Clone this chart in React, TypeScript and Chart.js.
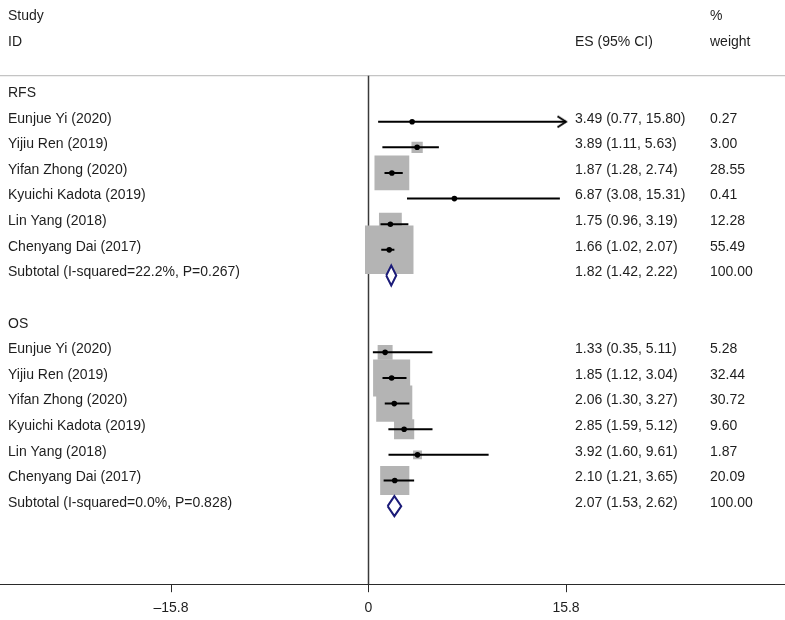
import React, { useEffect, useRef } from 'react';
import { Chart, registerables } from 'chart.js';

Chart.register(...registerables);

// ---------------- data ----------------
const studyNames = [
  'Eunjue Yi (2020)',
  'Yijiu Ren (2019)',
  'Yifan Zhong (2020)',
  'Kyuichi Kadota (2019)',
  'Lin Yang (2018)',
  'Chenyang Dai (2017)',
];

const groupNames = ['RFS', 'OS'];

const rfsES = [3.49, 3.89, 1.87, 6.87, 1.75, 1.66];
const rfsLow = [0.77, 1.11, 1.28, 3.08, 0.96, 1.02];
const rfsHigh = [15.8, 5.63, 2.74, 15.31, 3.19, 2.07];
const rfsWeight = [0.27, 3.0, 28.55, 0.41, 12.28, 55.49];

const osES = [1.33, 1.85, 2.06, 2.85, 3.92, 2.1];
const osLow = [0.35, 1.12, 1.3, 1.59, 1.6, 1.21];
const osHigh = [5.11, 3.04, 3.27, 5.12, 9.61, 3.65];
const osWeight = [5.28, 32.44, 30.72, 9.6, 1.87, 20.09];

const subtotalLabels = [
  'Subtotal (I-squared=22.2%, P=0.267)',
  'Subtotal (I-squared=0.0%, P=0.828)',
];
const subtotalES = [1.82, 2.07];
const subtotalLow = [1.42, 1.53];
const subtotalHigh = [2.22, 2.62];
const subtotalWeight = [100.0, 100.0];

const xTicks = [-15.8, 0, 15.8];
const headerLeft = ['Study', 'ID'];
const headerES = 'ES (95% CI)';
const headerWeight = ['%', 'weight'];

// ---------------- layout / style constants ----------------
const X_MIN = -29.48;
const X_MAX = 33.32;
const CLIP_MAX = 15.8;
const Y_MIN = -4.748;
const Y_MAX = 18.046;
const HEADER_LINE_ROW = -1.795;
const SQUARE_K = 6.51;
const DIAMOND_HALF = 0.39;
const FONT = '14px "Liberation Sans", Arial, Helvetica, sans-serif';
const TEXT_COLOR = '#1e1e1e';

type TextItem = { row: number; col: 'left' | 'es' | 'wt'; text: string };

function buildArrow(): HTMLCanvasElement {
  const c = document.createElement('canvas');
  c.width = 26;
  c.height = 16;
  const g = c.getContext('2d')!;
  g.strokeStyle = '#000';
  g.lineWidth = 2;
  g.lineJoin = 'miter';
  g.beginPath();
  g.moveTo(4.5, 2.5);
  g.lineTo(13, 8);
  g.lineTo(4.5, 13.5);
  g.stroke();
  return c;
}

export default function App() {
  const ref = useRef<HTMLCanvasElement | null>(null);

  useEffect(() => {
    document.body.style.margin = '0';
    const canvas = ref.current;
    if (!canvas) return;

    const groups = [
      { name: groupNames[0], es: rfsES, lo: rfsLow, hi: rfsHigh, wt: rfsWeight },
      { name: groupNames[1], es: osES, lo: osLow, hi: osHigh, wt: osWeight },
    ];

    const texts: TextItem[] = [];
    texts.push({ row: -4, col: 'left', text: headerLeft[0] });
    texts.push({ row: -3, col: 'left', text: headerLeft[1] });
    texts.push({ row: -3, col: 'es', text: headerES });
    texts.push({ row: -4, col: 'wt', text: headerWeight[0] });
    texts.push({ row: -3, col: 'wt', text: headerWeight[1] });

    const squares: { x: number; y: number }[] = [];
    const squareRadius: number[] = [];
    const dots: { x: number; y: number }[] = [];
    const arrows: { x: number; y: number }[] = [];
    const ciSets: any[] = [];
    const diamondSets: any[] = [];

    let r = -1;
    groups.forEach((g, gi) => {
      texts.push({ row: r, col: 'left', text: g.name });
      g.es.forEach((v, i) => {
        const row = r + 1 + i;
        squares.push({ x: v, y: row });
        squareRadius.push((Math.sqrt(g.wt[i]) * SQUARE_K) / Math.SQRT2);
        dots.push({ x: v, y: row });
        const hi = Math.min(g.hi[i], CLIP_MAX);
        if (g.hi[i] >= CLIP_MAX) arrows.push({ x: CLIP_MAX, y: row });
        ciSets.push({
          type: 'scatter',
          showLine: true,
          data: [
            { x: g.lo[i], y: row },
            { x: hi, y: row },
          ],
          borderColor: '#000',
          borderWidth: 2,
          pointRadius: 0,
          order: 3,
        });
        texts.push({ row, col: 'left', text: studyNames[i] });
        texts.push({
          row,
          col: 'es',
          text: `${v.toFixed(2)} (${g.lo[i].toFixed(2)}, ${g.hi[i].toFixed(2)})`,
        });
        texts.push({ row, col: 'wt', text: g.wt[i].toFixed(2) });
      });
      const sRow = r + g.es.length + 1;
      diamondSets.push({
        type: 'scatter',
        showLine: true,
        fill: 'shape',
        backgroundColor: '#ffffff',
        borderColor: '#1b1b78',
        borderWidth: 2,
        pointRadius: 0,
        order: 0,
        data: [
          { x: subtotalLow[gi], y: sRow },
          { x: subtotalES[gi], y: sRow - DIAMOND_HALF },
          { x: subtotalHigh[gi], y: sRow },
          { x: subtotalES[gi], y: sRow + DIAMOND_HALF },
          { x: subtotalLow[gi], y: sRow },
        ],
      });
      texts.push({ row: sRow, col: 'left', text: subtotalLabels[gi] });
      texts.push({
        row: sRow,
        col: 'es',
        text: `${subtotalES[gi].toFixed(2)} (${subtotalLow[gi].toFixed(2)}, ${subtotalHigh[gi].toFixed(2)})`,
      });
      texts.push({ row: sRow, col: 'wt', text: subtotalWeight[gi].toFixed(2) });
      r = sRow + 2;
    });

    const textPlugin = {
      id: 'forestText',
      afterDatasetsDraw(chart: any) {
        const { ctx, chartArea, scales } = chart;
        const xs = scales.x;
        const ys = scales.y;
        ctx.save();
        ctx.font = FONT;
        ctx.fillStyle = TEXT_COLOR;
        ctx.textBaseline = 'middle';
        ctx.textAlign = 'left';
        const colX = {
          left: chartArea.left + 8,
          es: xs.getPixelForValue(CLIP_MAX) + 9,
          wt: chartArea.left + 710,
        };
        texts.forEach((t) => {
          ctx.fillText(t.text, colX[t.col], ys.getPixelForValue(t.row) - 3);
        });
        ctx.restore();
      },
    };

    const chart = new Chart(canvas, {
      type: 'scatter',
      data: {
        datasets: [
          ...diamondSets,
          {
            type: 'scatter',
            data: arrows,
            pointStyle: buildArrow() as any,
            pointRadius: 8,
            order: 1,
          },
          {
            type: 'scatter',
            data: dots,
            pointStyle: 'circle',
            pointRadius: 2.8,
            backgroundColor: '#000',
            borderWidth: 0,
            order: 2,
          },
          ...ciSets,
          {
            type: 'scatter',
            data: squares,
            pointStyle: 'rect',
            pointRadius: squareRadius,
            backgroundColor: '#b4b4b4',
            borderWidth: 0,
            order: 4,
          },
          {
            type: 'scatter',
            showLine: true,
            data: [
              { x: 0, y: HEADER_LINE_ROW },
              { x: 0, y: Y_MAX },
            ],
            borderColor: '#3a3a3a',
            borderWidth: 1.5,
            pointRadius: 0,
            order: 5,
          },
          {
            type: 'scatter',
            showLine: true,
            data: [
              { x: X_MIN, y: HEADER_LINE_ROW },
              { x: X_MAX, y: HEADER_LINE_ROW },
            ],
            borderColor: '#c4c4c4',
            borderWidth: 1.2,
            pointRadius: 0,
            order: 6,
          },
        ] as any,
      },
      options: {
        animation: false,
        responsive: false,
        devicePixelRatio: 1,
        events: [],
        layout: { padding: { left: 0, right: 0, top: 0, bottom: -4 }, autoPadding: false },
        plugins: {
          legend: { display: false },
          tooltip: { enabled: false },
        },
        scales: {
          x: {
            type: 'linear',
            position: 'bottom',
            min: X_MIN,
            max: X_MAX,
            afterBuildTicks: (axis: any) => {
              axis.ticks = xTicks.map((v) => ({ value: v }));
            },
            border: { display: true, color: '#2a2a2a', width: 1 },
            grid: {
              display: true,
              drawOnChartArea: false,
              drawTicks: true,
              tickLength: 8,
              color: '#2a2a2a',
              lineWidth: 1,
            },
            ticks: {
              padding: 7.5,
              color: TEXT_COLOR,
              font: { family: '"Liberation Sans", Arial, Helvetica, sans-serif', size: 14 },
              maxRotation: 0,
              autoSkip: false,
              callback: (v: any) => {
                const n = Number(v);
                return n < 0 ? '\u2013' + Math.abs(n).toString() : n.toString();
              },
            },
          },
          y: {
            type: 'linear',
            display: false,
            reverse: true,
            min: Y_MIN,
            max: Y_MAX,
          },
        },
      } as any,
      plugins: [textPlugin],
    });

    return () => chart.destroy();
  }, []);

  return (
    <div style={{ width: 785, height: 620 }}>
      <canvas ref={ref} width={785} height={620} style={{ display: 'block' }} />
    </div>
  );
}
